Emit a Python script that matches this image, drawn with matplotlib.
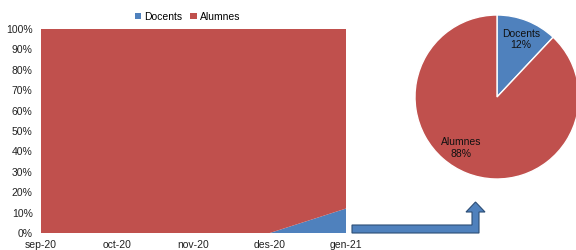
import matplotlib.pyplot as plt
import numpy as np
from matplotlib.patches import Polygon

# Data
months = ['sep-20', 'oct-20', 'nov-20', 'des-20', 'gen-21']
docents = [0, 0, 0, 0, 12]
alumnes = [100, 100, 100, 100, 88]
pie_labels = ['Docents', 'Alumnes']
pie_values = [12, 88]

blue = '#4F81BD'
red = '#C0504D'

plt.rcParams['font.family'] = ['Liberation Sans', 'DejaVu Sans']

fig = plt.figure(figsize=(5.76, 2.5), dpi=100)

# Stacked area chart
ax = fig.add_axes([41 / 576, 17 / 250, 305 / 576, 204 / 250])
x = np.arange(len(months))
ax.stackplot(x, docents, alumnes, colors=[blue, red], labels=pie_labels)
ax.set_xlim(0, len(months) - 1)
ax.set_ylim(0, 100)
ax.set_yticks(np.arange(0, 101, 10))
ax.set_yticklabels([f'{v}%' for v in range(0, 101, 10)])
ax.set_xticks(x)
ax.set_xticklabels(months)
ax.tick_params(axis='both', length=0, labelsize=7.5, colors='#222222')
ax.tick_params(axis='x', pad=5)
ax.tick_params(axis='y', pad=6)
for s in ax.spines.values():
    s.set_visible(False)
ax.legend(loc='lower center', bbox_to_anchor=(0.48, 1.0), ncol=2, fontsize=7.5,
          frameon=False, handlelength=0.6, handleheight=0.6, handletextpad=0.3,
          columnspacing=0.8, borderpad=0.2)

# Pie chart
pax = fig.add_axes([415 / 576, 71 / 250, 164 / 576, 164 / 250])
pax.pie(pie_values, colors=[blue, red], startangle=90, counterclock=False,
        wedgeprops=dict(edgecolor='white', linewidth=1))
pax.set_xlim(-1, 1)
pax.set_ylim(-1, 1)
pax.set_aspect('equal')
pax.text(0.29, 0.70, f'{pie_labels[0]}\n{pie_values[0]}%', ha='center', va='center',
         fontsize=7.5, color='#111111')
pax.text(-0.44, -0.62, f'{pie_labels[1]}\n{pie_values[1]}%', ha='center', va='center',
         fontsize=7.5, color='#111111')

# Connecting arrow (figure pixel coords)
pts = [(352, 233), (479, 233), (479, 212), (485, 212), (475.5, 202),
       (466, 212), (472, 212), (472, 225), (352, 225)]
pts = [(px / 576, 1 - py / 250) for px, py in pts]
arrow = Polygon(pts, closed=True, transform=fig.transFigure, facecolor=blue,
                edgecolor='#2c4d75', linewidth=0.8)
fig.patches.append(arrow)

fig.savefig('out.png', dpi=100)
